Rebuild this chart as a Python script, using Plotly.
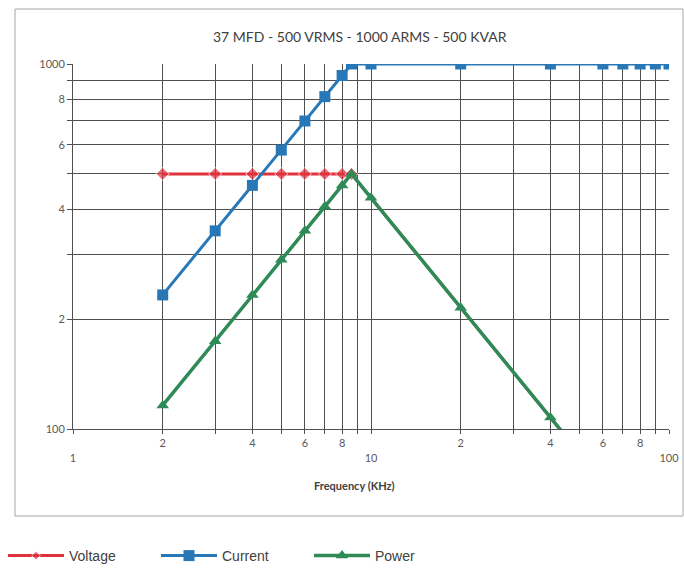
import plotly.graph_objects as go

# ---- data ----
volt_freq = [2, 3, 4, 5, 6, 7, 8, 8.6, 10, 20, 40, 60]
volt_vals = [500, 500, 500, 500, 500, 500, 500, 500, 430, 215, 107.5, 71.7]

curr_freq = [2, 3, 4, 5, 6, 7, 8, 8.6, 10, 20, 40, 60, 70, 80, 90, 100]
curr_vals = [233, 349, 465, 581, 698, 814, 930, 1000, 1000, 1000, 1000, 1000, 1000, 1000, 1000, 1000]

pow_freq = [2, 3, 4, 5, 6, 7, 8, 8.6, 10, 20, 40, 60]
pow_vals = [116, 174, 233, 291, 349, 407, 465, 500, 430, 215, 107.5, 71.7]

x_grid = [1, 2, 3, 4, 5, 6, 7, 8, 9, 10, 20, 30, 40, 50, 60, 70, 80, 90, 100]
x_text = ["<br>1", "2", "", "4", "", "6", "", "8", "", "<br>10", "2", "", "4", "", "6", "", "8", "", "<br>100"]
y_grid = [100, 200, 300, 400, 500, 600, 700, 800, 900, 1000]
y_text = ["100", "2", "", "4", "", "6", "", "8", "", "1000"]

title_text = "37 MFD - 500 VRMS - 1000 ARMS - 500 KVAR"
x_title = "Frequency (KHz)"

RED = "#e0313c"
BLUE = "#2878b8"
GREEN = "#2e8b57"

# voltage markers only on the flat (rated) part; the falling part lies under the power line
volt_sizes = [10 if v >= max(volt_vals) else 0 for v in volt_vals]

fig = go.Figure()
fig.add_trace(go.Scatter(x=volt_freq, y=volt_vals, name="Voltage", mode="lines+markers",
                         line=dict(color=RED, width=3),
                         marker=dict(symbol="diamond", size=volt_sizes, color=RED)))
fig.add_trace(go.Scatter(x=curr_freq, y=curr_vals, name="Current", mode="lines+markers",
                         line=dict(color=BLUE, width=3),
                         marker=dict(symbol="square", size=11, color=BLUE)))
fig.add_trace(go.Scatter(x=pow_freq, y=pow_vals, name="Power", mode="lines+markers",
                         line=dict(color=GREEN, width=3.5),
                         marker=dict(symbol="triangle-up", size=11, color=GREEN)))

L, R, T, B = 73, 669, 64, 429
W, H = 684, 569
pw, ph = R - L, B - T

def px(xp):
    return (xp - L) / pw

def py(yp):
    return (B - yp) / ph

tick_font = dict(family="Lato, Open Sans, sans-serif", size=11, color="#595959")

fig.update_layout(
    width=W, height=H,
    margin=dict(l=L, r=W - R, t=T, b=H - B, autoexpand=False),
    paper_bgcolor="white", plot_bgcolor="white",
    showlegend=True,
    legend=dict(orientation="h", x=px(3), y=py(556), xanchor="left", yanchor="middle",
                font=dict(family="Liberation Sans, Arial, sans-serif", size=14, color="#404040"),
                itemwidth=56, entrywidth=82, entrywidthmode="pixels", bgcolor="rgba(0,0,0,0)"),
    xaxis=dict(type="log", range=[0, 2], tickvals=x_grid, ticktext=x_text,
               showgrid=True, gridcolor="#505050", gridwidth=1,
               ticks="outside", ticklen=4, tickcolor="#505050",
               showline=True, linecolor="#505050", linewidth=1,
               tickfont=tick_font, zeroline=False, automargin=False),
    yaxis=dict(type="log", range=[2, 3], tickvals=y_grid, ticktext=y_text,
               showgrid=True, gridcolor="#505050", gridwidth=1,
               ticks="outside", ticklen=5, tickcolor="#505050",
               showline=True, linecolor="#505050", linewidth=1,
               tickfont=tick_font, zeroline=False, automargin=False),
    shapes=[dict(type="rect", xref="paper", yref="paper",
                 x0=px(15), x1=px(683), y0=py(516), y1=py(9),
                 line=dict(color="#a6a6a6", width=1), fillcolor="rgba(0,0,0,0)", layer="below")],
    annotations=[
        dict(text=title_text, xref="paper", yref="paper", x=px(360), y=py(37),
             xanchor="center", yanchor="middle", showarrow=False,
             font=dict(family="Lato, Open Sans, sans-serif", size=14, color="#404040")),
        dict(text="<b>" + x_title + "</b>", xref="paper", yref="paper", x=px(354), y=py(486),
             xanchor="center", yanchor="middle", showarrow=False,
             font=dict(family="Lato, Open Sans, sans-serif", size=11, color="#404040")),
    ],
)

fig.write_html("out.html", config={"displayModeBar": False},
               post_script="document.body.style.margin='0';document.body.style.overflow='hidden';")
